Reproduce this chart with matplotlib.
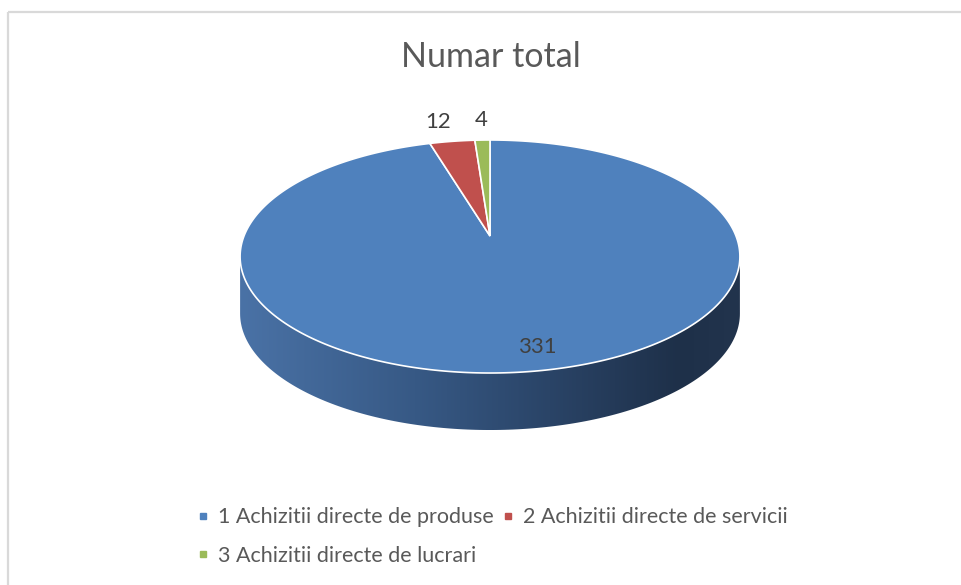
import numpy as np
import matplotlib
matplotlib.use('Agg')
import matplotlib.pyplot as plt
from matplotlib.patches import Polygon, Rectangle
from matplotlib.lines import Line2D
from matplotlib.colors import LinearSegmentedColormap

#chart data
title = "Numar total"
categories = ["1 Achizitii directe de produse", "2 Achizitii directe de servicii", "3 Achizitii directe de lucrari"]
values = [331, 12, 4]
colors = ["#4f81bd", "#c0504d", "#9bbb59"]

#pie geometry in pixel space (simple perspective tilt)
cx, cy = 490, 236
A, B, K = 246, 112.9, 0.176
depth = 57

def project(theta, r=1.0, dy=0.0):
    u = r * np.cos(theta)
    v = r * np.sin(theta)
    den = 1 + K * v
    return cx + A * u / den, cy - B * v / den + dy

plt.rcParams['font.family'] = ['Lato', 'DejaVu Sans']
fig = plt.figure(figsize=(9.61, 5.85), dpi=100)
ax = fig.add_axes([0, 0, 1, 1])
ax.set_xlim(0, 961)
ax.set_ylim(585, 0)
ax.axis('off')

#chart border
ax.add_patch(Rectangle((8, 12), 1000, 700, fill=False, ec='#d9d9d9', lw=1.6))

#side wall with horizontal shading
tl = np.pi + np.arcsin(K)
tr = 2 * np.pi - np.arcsin(K)
ts = np.linspace(tl, tr, 200)
tx, ty = project(ts)
bx, by = project(ts[::-1], dy=depth)
side = np.column_stack([np.concatenate([tx, bx]), np.concatenate([ty, by])])
side_patch = Polygon(side, closed=True, fc='none', ec='none')
ax.add_patch(side_patch)
shade = LinearSegmentedColormap.from_list('side', [(0, '#4a72a6'), (0.35, '#375985'),
                                                  (0.62, '#2a4467'), (0.88, '#1e3049'),
                                                  (1, '#22344d')])
grad = np.linspace(0, 1, 256)[None, :]
im = ax.imshow(grad, cmap=shade, aspect='auto',
               extent=[side[:, 0].min(), side[:, 0].max(), side[:, 1].max(), side[:, 1].min()],
               zorder=1)
im.set_clip_path(side_patch)

#top face slices, starting at 12 o'clock going clockwise
fracs = np.array(values) / sum(values)
start = np.pi / 2
mids = []
for f, c in zip(fracs, colors):
    end = start - f * 2 * np.pi
    th = np.linspace(start, end, max(3, int(f * 400)))
    px, py = project(th)
    pts = np.column_stack([np.concatenate([[cx], px]), np.concatenate([[cy], py])])
    ax.add_patch(Polygon(pts, closed=True, fc=c, ec='white', lw=1.2, zorder=2))
    mids.append((start + end) / 2)
    start = end

#data labels
lx, ly = project(mids[0], r=0.85)
ax.text(lx + 12, ly, str(values[0]), ha='center', va='center', fontsize=16, color='#404040', zorder=3)
for m, val, shift in zip(mids[1:], values[1:], [-10, 0]):
    lx, ly = project(m, r=1.12)
    ax.text(lx + shift, ly, str(val), ha='center', va='bottom', fontsize=16, color='#404040', zorder=3)

ax.text(491, 57, title, ha='center', va='center', fontsize=24.5, color='#595959')

#legend: order so entry 3 lands under entry 1
handles = [Line2D([], [], ls='none', marker='s', ms=5, color=c) for c in colors]
order = [0, 2, 1]
fig.legend([handles[i] for i in order], [categories[i] for i in order],
           ncol=2, loc='center', bbox_to_anchor=(0.513, 0.083), bbox_transform=fig.transFigure,
           frameon=False, fontsize=15.5, labelcolor='#595959', handlelength=0.5,
           handletextpad=0.45, columnspacing=0.4, labelspacing=0.87)

fig.savefig('out.png', dpi=100, facecolor='white')
